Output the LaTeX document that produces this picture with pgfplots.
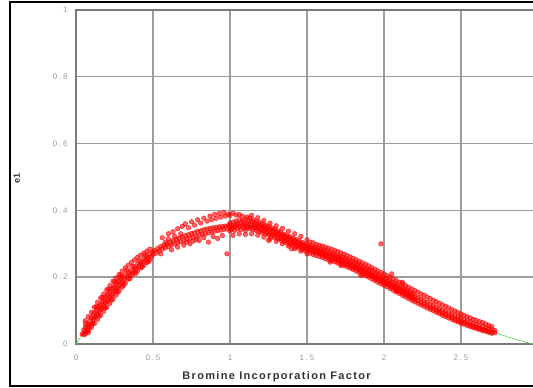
\documentclass[border=0pt]{standalone}
\usepackage{fontspec}
\setmainfont{Liberation Sans}
\newfontfamily\tickfont[LetterSpace=22]{Liberation Sans}
\newfontfamily\labfont[LetterSpace=12]{Liberation Sans}
\usepackage{pgfplots}
\pgfplotsset{compat=1.18}
\definecolor{gridgray}{HTML}{9C9C9C}
\definecolor{axisgray}{HTML}{7A7A7A}
\definecolor{ticktext}{HTML}{9A9A9A}
\definecolor{fitgreen}{HTML}{55CC55}

% measured e1 values against bromine incorporation factor
\pgfplotstableread{
x y
0.04 0.030
0.05 0.042
0.05 0.028
0.06 0.050
0.06 0.036
0.06 0.062
0.06 0.070
0.06 0.030
0.07 0.055
0.07 0.041
0.08 0.060
0.08 0.046
0.08 0.034
0.08 0.082
0.08 0.040
0.09 0.068
0.09 0.052
0.10 0.078
0.10 0.060
0.10 0.095
0.10 0.050
0.11 0.072
0.11 0.085
0.11 0.060
0.12 0.078
0.12 0.093
0.12 0.110
0.12 0.062
0.13 0.084
0.13 0.100
0.13 0.112
0.14 0.090
0.14 0.108
0.14 0.125
0.14 0.074
0.15 0.097
0.15 0.112
0.15 0.083
0.16 0.102
0.16 0.118
0.16 0.138
0.16 0.086
0.17 0.108
0.17 0.126
0.17 0.140
0.18 0.114
0.18 0.130
0.18 0.150
0.18 0.098
0.19 0.121
0.19 0.138
0.19 0.108
0.20 0.126
0.20 0.144
0.20 0.162
0.20 0.110
0.21 0.132
0.21 0.150
0.21 0.165
0.22 0.139
0.22 0.156
0.22 0.175
0.22 0.122
0.23 0.144
0.23 0.163
0.23 0.131
0.24 0.150
0.24 0.168
0.24 0.188
0.24 0.134
0.25 0.157
0.25 0.173
0.25 0.186
0.26 0.162
0.26 0.180
0.26 0.198
0.26 0.146
0.27 0.168
0.27 0.186
0.27 0.155
0.28 0.174
0.28 0.190
0.28 0.208
0.28 0.158
0.29 0.180
0.29 0.197
0.29 0.206
0.30 0.186
0.30 0.201
0.30 0.218
0.30 0.170
0.31 0.190
0.31 0.176
0.32 0.207
0.32 0.228
0.32 0.182
0.33 0.200
0.33 0.221
0.34 0.214
0.34 0.236
0.34 0.194
0.35 0.208
0.35 0.196
0.36 0.222
0.36 0.244
0.36 0.204
0.37 0.216
0.37 0.233
0.38 0.230
0.38 0.252
0.38 0.212
0.39 0.225
0.39 0.212
0.40 0.240
0.40 0.260
0.40 0.220
0.41 0.234
0.41 0.250
0.42 0.246
0.42 0.266
0.42 0.228
0.43 0.240
0.43 0.230
0.44 0.255
0.44 0.272
0.44 0.236
0.45 0.250
0.45 0.266
0.46 0.262
0.46 0.278
0.46 0.244
0.47 0.256
0.47 0.246
0.48 0.270
0.48 0.284
0.48 0.252
0.49 0.262
0.50 0.276
0.50 0.268
0.51 0.280
0.52 0.272
0.53 0.286
0.54 0.278
0.55 0.292
0.55 0.270
0.56 0.284
0.56 0.318
0.57 0.296
0.58 0.288
0.58 0.305
0.59 0.300
0.60 0.292
0.60 0.315
0.60 0.330
0.61 0.305
0.62 0.296
0.62 0.282
0.63 0.309
0.63 0.336
0.64 0.300
0.64 0.322
0.65 0.313
0.66 0.303
0.66 0.290
0.66 0.345
0.67 0.317
0.68 0.306
0.68 0.330
0.69 0.321
0.69 0.352
0.70 0.310
0.70 0.296
0.71 0.324
0.71 0.360
0.72 0.313
0.72 0.305
0.73 0.327
0.73 0.348
0.74 0.316
0.74 0.300
0.75 0.331
0.75 0.366
0.76 0.320
0.76 0.308
0.77 0.333
0.77 0.356
0.78 0.322
0.78 0.312
0.79 0.337
0.79 0.372
0.80 0.325
0.80 0.310
0.81 0.339
0.81 0.362
0.82 0.328
0.83 0.342
0.83 0.318
0.83 0.377
0.84 0.330
0.85 0.344
0.85 0.368
0.86 0.333
0.86 0.305
0.87 0.346
0.87 0.383
0.88 0.335
0.88 0.372
0.89 0.348
0.89 0.322
0.90 0.338
0.90 0.388
0.91 0.349
0.91 0.376
0.92 0.340
0.92 0.316
0.93 0.351
0.93 0.391
0.94 0.341
0.94 0.380
0.95 0.352
0.95 0.325
0.96 0.343
0.96 0.394
0.97 0.353
0.97 0.383
0.98 0.345
0.98 0.270
0.99 0.355
0.99 0.389
1.00 0.350
1.00 0.362
1.00 0.338
1.00 0.385
1.01 0.356
1.01 0.343
1.02 0.365
1.02 0.348
1.02 0.392
1.02 0.325
1.03 0.352
1.03 0.340
1.04 0.368
1.04 0.355
1.04 0.386
1.05 0.346
1.05 0.360
1.06 0.372
1.06 0.352
1.06 0.388
1.06 0.330
1.07 0.343
1.07 0.362
1.08 0.370
1.08 0.355
1.08 0.383
1.09 0.347
1.09 0.364
1.10 0.374
1.10 0.356
1.10 0.340
1.10 0.328
1.11 0.362
1.11 0.348
1.11 0.380
1.12 0.369
1.12 0.352
1.13 0.358
1.13 0.345
1.13 0.377
1.14 0.366
1.14 0.350
1.14 0.330
1.14 0.385
1.15 0.356
1.15 0.342
1.15 0.372
1.16 0.362
1.16 0.348
1.17 0.353
1.17 0.340
1.17 0.368
1.18 0.359
1.18 0.345
1.18 0.326
1.18 0.378
1.19 0.350
1.19 0.336
1.19 0.364
1.20 0.355
1.20 0.342
1.21 0.347
1.21 0.333
1.21 0.360
1.22 0.352
1.22 0.338
1.22 0.320
1.22 0.370
1.23 0.343
1.23 0.330
1.23 0.356
1.24 0.348
1.24 0.334
1.25 0.340
1.25 0.326
1.25 0.352
1.25 0.310
1.26 0.344
1.26 0.330
1.26 0.314
1.26 0.362
1.27 0.336
1.27 0.322
1.27 0.348
1.28 0.340
1.28 0.327
1.29 0.331
1.29 0.319
1.29 0.344
1.30 0.336
1.30 0.323
1.30 0.307
1.30 0.354
1.31 0.327
1.31 0.315
1.31 0.339
1.32 0.331
1.32 0.318
1.33 0.323
1.33 0.311
1.33 0.334
1.34 0.326
1.34 0.314
1.34 0.300
1.34 0.346
1.35 0.318
1.35 0.307
1.35 0.329
1.36 0.322
1.36 0.310
1.37 0.314
1.37 0.302
1.37 0.325
1.38 0.318
1.38 0.306
1.38 0.293
1.38 0.338
1.39 0.310
1.39 0.298
1.39 0.321
1.40 0.313
1.40 0.302
1.40 0.285
1.41 0.306
1.41 0.295
1.41 0.317
1.42 0.309
1.42 0.298
1.42 0.285
1.42 0.330
1.43 0.302
1.43 0.291
1.43 0.313
1.44 0.305
1.44 0.294
1.45 0.298
1.45 0.287
1.45 0.309
1.46 0.301
1.46 0.290
1.46 0.278
1.46 0.322
1.47 0.294
1.47 0.283
1.47 0.304
1.48 0.297
1.48 0.286
1.49 0.290
1.49 0.279
1.49 0.300
1.50 0.293
1.50 0.282
1.50 0.270
1.50 0.312
1.51 0.296
1.51 0.284
1.52 0.289
1.52 0.279
1.52 0.305
1.52 0.272
1.53 0.293
1.53 0.281
1.54 0.286
1.54 0.276
1.54 0.303
1.54 0.268
1.55 0.290
1.55 0.277
1.56 0.283
1.56 0.273
1.56 0.298
1.56 0.265
1.57 0.287
1.57 0.274
1.58 0.280
1.58 0.270
1.58 0.296
1.58 0.262
1.59 0.284
1.59 0.271
1.60 0.277
1.60 0.266
1.60 0.293
1.60 0.259
1.61 0.281
1.61 0.268
1.62 0.274
1.62 0.263
1.62 0.255
1.62 0.290
1.63 0.278
1.63 0.264
1.64 0.270
1.64 0.260
1.64 0.287
1.64 0.252
1.65 0.274
1.65 0.261
1.65 0.245
1.66 0.267
1.66 0.256
1.66 0.284
1.66 0.249
1.67 0.271
1.67 0.258
1.68 0.263
1.68 0.253
1.68 0.280
1.68 0.246
1.69 0.267
1.69 0.254
1.70 0.260
1.70 0.249
1.70 0.277
1.70 0.242
1.71 0.263
1.71 0.251
1.72 0.256
1.72 0.245
1.72 0.235
1.72 0.273
1.72 0.239
1.73 0.260
1.73 0.247
1.74 0.252
1.74 0.241
1.74 0.269
1.74 0.235
1.75 0.256
1.75 0.243
1.76 0.248
1.76 0.237
1.76 0.265
1.76 0.231
1.77 0.252
1.77 0.239
1.78 0.244
1.78 0.233
1.78 0.261
1.78 0.227
1.79 0.248
1.79 0.235
1.80 0.240
1.80 0.229
1.80 0.257
1.80 0.223
1.81 0.244
1.81 0.230
1.82 0.236
1.82 0.225
1.82 0.252
1.82 0.218
1.83 0.239
1.83 0.226
1.84 0.231
1.84 0.220
1.84 0.248
1.84 0.214
1.85 0.235
1.85 0.221
1.85 0.205
1.86 0.226
1.86 0.216
1.86 0.243
1.86 0.209
1.87 0.230
1.87 0.217
1.88 0.222
1.88 0.211
1.88 0.239
1.88 0.205
1.89 0.225
1.89 0.212
1.90 0.217
1.90 0.207
1.90 0.234
1.90 0.200
1.91 0.221
1.91 0.207
1.92 0.212
1.92 0.202
1.92 0.229
1.92 0.195
1.93 0.216
1.93 0.202
1.94 0.207
1.94 0.197
1.94 0.224
1.94 0.190
1.95 0.211
1.95 0.197
1.96 0.202
1.96 0.192
1.96 0.219
1.96 0.185
1.97 0.206
1.97 0.192
1.98 0.197
1.98 0.187
1.98 0.300
1.98 0.214
1.98 0.180
1.99 0.201
1.99 0.187
2.00 0.193
2.00 0.183
2.00 0.210
2.00 0.176
2.01 0.196
2.01 0.182
2.02 0.188
2.02 0.178
2.02 0.205
2.02 0.171
2.03 0.191
2.03 0.177
2.04 0.183
2.04 0.173
2.04 0.200
2.04 0.166
2.05 0.186
2.05 0.172
2.05 0.210
2.06 0.178
2.06 0.168
2.06 0.195
2.06 0.161
2.07 0.181
2.07 0.167
2.08 0.173
2.08 0.163
2.08 0.158
2.08 0.190
2.08 0.156
2.09 0.176
2.09 0.162
2.10 0.168
2.10 0.158
2.10 0.185
2.10 0.151
2.11 0.171
2.11 0.157
2.12 0.163
2.12 0.153
2.12 0.185
2.12 0.180
2.12 0.146
2.13 0.166
2.13 0.152
2.14 0.158
2.14 0.148
2.14 0.175
2.14 0.141
2.15 0.161
2.15 0.147
2.16 0.153
2.16 0.143
2.16 0.170
2.16 0.136
2.17 0.156
2.17 0.142
2.18 0.148
2.18 0.138
2.18 0.165
2.18 0.131
2.19 0.151
2.19 0.137
2.20 0.143
2.20 0.133
2.20 0.160
2.20 0.126
2.22 0.139
2.22 0.130
2.22 0.155
2.22 0.122
2.24 0.135
2.24 0.124
2.24 0.150
2.24 0.117
2.26 0.130
2.26 0.120
2.26 0.146
2.26 0.113
2.28 0.125
2.28 0.115
2.28 0.141
2.28 0.108
2.30 0.120
2.30 0.110
2.30 0.136
2.30 0.104
2.32 0.116
2.32 0.106
2.32 0.131
2.32 0.100
2.34 0.111
2.34 0.101
2.34 0.127
2.34 0.095
2.36 0.106
2.36 0.097
2.36 0.122
2.36 0.091
2.38 0.102
2.38 0.092
2.38 0.117
2.38 0.086
2.40 0.097
2.40 0.088
2.40 0.113
2.40 0.082
2.42 0.093
2.42 0.084
2.42 0.108
2.42 0.078
2.44 0.089
2.44 0.079
2.44 0.103
2.44 0.074
2.46 0.085
2.46 0.075
2.46 0.099
2.46 0.070
2.48 0.081
2.48 0.071
2.48 0.094
2.48 0.066
2.50 0.077
2.50 0.067
2.50 0.090
2.50 0.062
2.52 0.073
2.52 0.064
2.52 0.086
2.52 0.059
2.54 0.069
2.54 0.060
2.54 0.082
2.54 0.056
2.56 0.066
2.56 0.056
2.56 0.078
2.56 0.052
2.58 0.062
2.58 0.053
2.58 0.074
2.58 0.049
2.60 0.059
2.60 0.050
2.60 0.071
2.60 0.046
2.62 0.055
2.62 0.047
2.62 0.067
2.62 0.043
2.64 0.052
2.64 0.044
2.64 0.064
2.64 0.040
2.66 0.049
2.66 0.041
2.66 0.060
2.66 0.038
2.68 0.046
2.68 0.038
2.68 0.056
2.68 0.035
2.70 0.043
2.70 0.036
2.70 0.052
2.70 0.032
2.72 0.040
2.72 0.034
}\measured

% fitted curve through the cloud
\pgfplotstableread{
x y
0.00 0.000
0.05 0.035
0.10 0.065
0.20 0.125
0.30 0.182
0.40 0.232
0.50 0.272
0.60 0.303
0.70 0.325
0.80 0.340
0.90 0.350
1.00 0.355
1.10 0.355
1.20 0.350
1.30 0.337
1.40 0.318
1.50 0.296
1.60 0.275
1.70 0.256
1.80 0.236
1.90 0.215
2.00 0.193
2.10 0.170
2.20 0.146
2.30 0.122
2.40 0.099
2.50 0.076
2.60 0.056
2.70 0.038
2.80 0.022
2.90 0.008
2.97 0.000
}\fitted

\begin{document}
\begin{tikzpicture}
\begin{axis}[
  at={(76pt,44pt)}, anchor=south west,
  scale only axis, width=462pt, height=334pt,
  xmin=0, xmax=3, ymin=0, ymax=1,
  xtick={0,0.5,1,1.5,2,2.5}, xticklabels={0,0.5,1,1.5,2,2.5},
  ytick={0,0.2,0.4,0.6,0.8,1}, yticklabels={0,0.2,0.4,0.6,0.8,1},
  major tick length=0pt,
  grid=major,
  grid style={gridgray, line width=1.4pt},
  axis line style={axisgray, line width=1.6pt},
  xticklabel style={ticktext, font=\tickfont\fontsize{8}{8}\selectfont, yshift=-7pt},
  yticklabel style={ticktext, font=\tickfont\fontsize{8}{8}\selectfont, xshift=-5pt},
  xlabel={Bromine Incorporation Factor},
  xlabel style={at={(axis description cs:0.434,-0.099)}, anchor=center,
    font=\labfont\bfseries\fontsize{11}{11}\selectfont, text=black!80},
  ylabel={e1},
  ylabel style={at={(axis description cs:-0.128,0.497)}, anchor=center,
    font=\bfseries\fontsize{9}{9}\selectfont, text=black!80},
  clip=false,
]
\addplot[fitgreen, line width=0.6pt, smooth] table {\fitted};
\addplot[only marks, mark=*, mark size=2.3pt, red, line width=0.5pt,
  mark options={draw opacity=0.75, fill opacity=0.6}] table {\measured};
\end{axis}
\draw[black, line width=2.2pt] (10pt,2pt) rectangle (548pt,386pt);
\pgfresetboundingbox
\useasboundingbox (0pt,0pt) rectangle (533pt,388pt);
\end{tikzpicture}
\end{document}
